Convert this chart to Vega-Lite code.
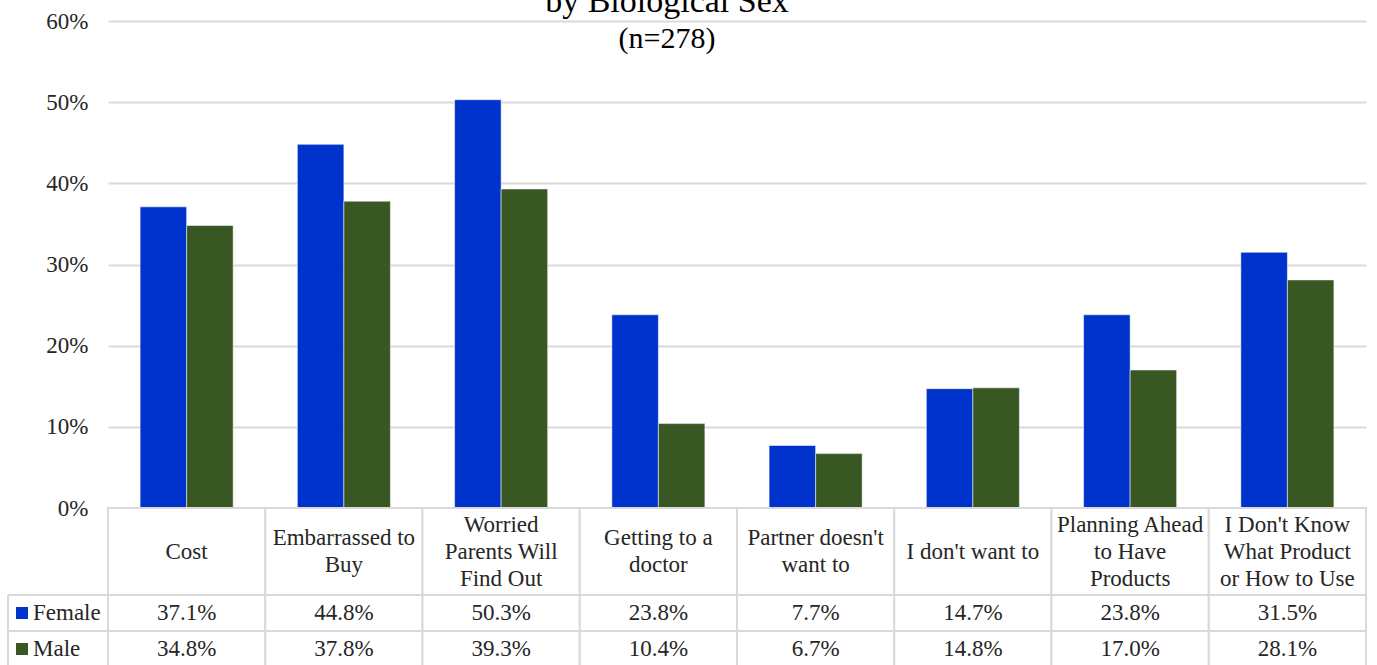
{
  "$schema": "https://vega.github.io/schema/vega-lite/v6.json",
  "autosize": {"type": "pad"},
  "padding": {"left": 7, "top": -15, "right": 0, "bottom": 0},
  "background": "white",
  "config": {
    "font": "Liberation Serif",
    "view": {"stroke": null},
    "text": {"font": "Liberation Serif", "color": "#262626"}
  },
  "datasets": {
    "bars": [
      {"reason": "Cost", "sex": "Female", "pct": 0.371},
      {"reason": "Cost", "sex": "Male", "pct": 0.348},
      {"reason": "Embarrassed to\nBuy", "sex": "Female", "pct": 0.448},
      {"reason": "Embarrassed to\nBuy", "sex": "Male", "pct": 0.378},
      {"reason": "Worried\nParents Will\nFind Out", "sex": "Female", "pct": 0.503},
      {"reason": "Worried\nParents Will\nFind Out", "sex": "Male", "pct": 0.393},
      {"reason": "Getting to a\ndoctor", "sex": "Female", "pct": 0.238},
      {"reason": "Getting to a\ndoctor", "sex": "Male", "pct": 0.104},
      {"reason": "Partner doesn't\nwant to", "sex": "Female", "pct": 0.077},
      {"reason": "Partner doesn't\nwant to", "sex": "Male", "pct": 0.067},
      {"reason": "I don't want to", "sex": "Female", "pct": 0.147},
      {"reason": "I don't want to", "sex": "Male", "pct": 0.148},
      {"reason": "Planning Ahead\nto Have\nProducts", "sex": "Female", "pct": 0.238},
      {"reason": "Planning Ahead\nto Have\nProducts", "sex": "Male", "pct": 0.170},
      {"reason": "I Don't Know\nWhat Product\nor How to Use", "sex": "Female", "pct": 0.315},
      {"reason": "I Don't Know\nWhat Product\nor How to Use", "sex": "Male", "pct": 0.281}
    ],
    "reasons": [
      {"reason": "Cost"},
      {"reason": "Embarrassed to\nBuy"},
      {"reason": "Worried\nParents Will\nFind Out"},
      {"reason": "Getting to a\ndoctor"},
      {"reason": "Partner doesn't\nwant to"},
      {"reason": "I don't want to"},
      {"reason": "Planning Ahead\nto Have\nProducts"},
      {"reason": "I Don't Know\nWhat Product\nor How to Use"}
    ],
    "sexes": [
      {"sex": "Female"},
      {"sex": "Male"}
    ]
  },
  "spacing": 0,
  "bounds": "flush",
  "vconcat": [
    {
      "width": 1258,
      "height": 487,
      "title": {
        "text": "by Biological Sex",
        "subtitle": "(n=278)",
        "fontSize": 34,
        "subtitleFontSize": 30,
        "subtitlePadding": 5,
        "fontWeight": "normal",
        "font": "Liberation Serif",
        "subtitleFont": "Liberation Serif",
        "color": "#000000",
        "subtitleColor": "#000000",
        "anchor": "middle",
        "frame": "group",
        "dx": -70,
        "offset": -44
      },
      "data": {"name": "bars"},
      "mark": {"type": "bar", "stroke": "#ffffff", "strokeWidth": 1, "strokeOpacity": 0.5},
      "encoding": {
        "x": {
          "field": "reason", "type": "nominal", "sort": null,
          "scale": {"paddingInner": 0, "paddingOuter": 0},
          "axis": null
        },
        "xOffset": {
          "field": "sex", "type": "nominal", "sort": ["Female", "Male"],
          "scale": {"paddingOuter": 0.69, "paddingInner": 0}
        },
        "y": {
          "field": "pct", "type": "quantitative",
          "scale": {"domain": [0, 0.6], "nice": false},
          "axis": {
            "title": null,
            "values": [0, 0.1, 0.2, 0.3, 0.4, 0.5, 0.6],
            "format": ".0%",
            "grid": true,
            "gridColor": "#d9d9d9",
            "gridWidth": 2,
            "domain": false,
            "ticks": false,
            "labelPadding": 20,
            "labelFontSize": 23,
            "labelFont": "Liberation Serif",
            "labelColor": "#262626"
          }
        },
        "color": {
          "field": "sex", "type": "nominal",
          "scale": {"domain": ["Female", "Male"], "range": ["#0033cc", "#385723"]},
          "legend": null
        }
      }
    },
    {
      "width": 1258,
      "height": 87,
      "data": {"name": "reasons"},
      "encoding": {
        "x": {
          "field": "reason", "type": "nominal", "sort": null,
          "scale": {"paddingInner": 0, "paddingOuter": 0},
          "axis": null
        }
      },
      "layer": [
        {"mark": {"type": "rect", "fill": "#ffffff", "stroke": "#d9d9d9", "strokeWidth": 2}},
        {
          "transform": [{"filter": "length(split(datum.reason, '\\n')) == 1"}],
          "mark": {"type": "text", "font": "Liberation Serif", "fontSize": 23, "lineHeight": 27, "lineBreak": "\n", "baseline": "middle", "align": "center"},
          "encoding": {"text": {"field": "reason"}}
        },
        {
          "transform": [{"filter": "length(split(datum.reason, '\\n')) == 2"}],
          "mark": {"type": "text", "font": "Liberation Serif", "fontSize": 23, "lineHeight": 27, "lineBreak": "\n", "baseline": "middle", "align": "center", "dy": -13.5},
          "encoding": {"text": {"field": "reason"}}
        },
        {
          "transform": [{"filter": "length(split(datum.reason, '\\n')) == 3"}],
          "mark": {"type": "text", "font": "Liberation Serif", "fontSize": 23, "lineHeight": 27, "lineBreak": "\n", "baseline": "middle", "align": "center", "dy": -27},
          "encoding": {"text": {"field": "reason"}}
        }
      ]
    },
    {
      "width": 1258,
      "height": 72,
      "data": {"name": "bars"},
      "layer": [
        {
          "mark": {"type": "rect", "fill": "#ffffff", "stroke": "#d9d9d9", "strokeWidth": 2},
          "encoding": {
            "x": {"field": "reason", "type": "nominal", "sort": null, "scale": {"paddingInner": 0, "paddingOuter": 0}, "axis": null},
            "y": {"field": "sex", "type": "nominal", "sort": ["Female", "Male"], "scale": {"paddingInner": 0, "paddingOuter": 0}, "axis": null}
          }
        },
        {
          "mark": {"type": "text", "font": "Liberation Serif", "fontSize": 23, "baseline": "middle", "align": "center"},
          "encoding": {
            "x": {"field": "reason", "type": "nominal", "sort": null},
            "y": {"field": "sex", "type": "nominal", "sort": ["Female", "Male"]},
            "text": {"field": "pct", "type": "quantitative", "format": ".1%"}
          }
        },
        {
          "data": {"name": "sexes"},
          "mark": {"type": "rule", "color": "#d9d9d9", "strokeWidth": 2, "xOffset": -100},
          "encoding": {
            "x": {"datum": "Cost", "bandPosition": 0},
            "x2": {"datum": "Cost"},
            "y": {"field": "sex", "type": "nominal", "sort": ["Female", "Male"], "bandPosition": 0}
          }
        },
        {
          "data": {"name": "sexes"},
          "mark": {"type": "rule", "color": "#d9d9d9", "strokeWidth": 2, "xOffset": -100},
          "encoding": {
            "x": {"datum": "Cost", "bandPosition": 0}
          }
        },
        {
          "data": {"name": "sexes"},
          "mark": {"type": "point", "shape": "square", "size": 144, "filled": true, "opacity": 1, "xOffset": -86},
          "encoding": {
            "x": {"datum": "Cost", "bandPosition": 0},
            "y": {"field": "sex", "type": "nominal", "sort": ["Female", "Male"]},
            "color": {"field": "sex", "type": "nominal", "scale": {"domain": ["Female", "Male"], "range": ["#0033cc", "#385723"]}, "legend": null}
          }
        },
        {
          "data": {"name": "sexes"},
          "mark": {"type": "text", "font": "Liberation Serif", "fontSize": 23, "baseline": "middle", "align": "left", "dx": -75},
          "encoding": {
            "x": {"datum": "Cost", "bandPosition": 0},
            "y": {"field": "sex", "type": "nominal", "sort": ["Female", "Male"]},
            "text": {"field": "sex"}
          }
        }
      ]
    }
  ]
}
